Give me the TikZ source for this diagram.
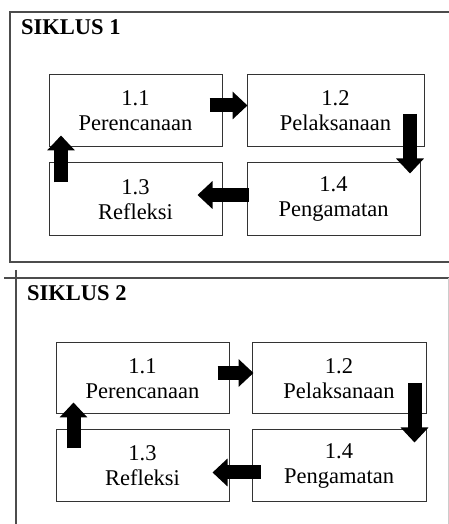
\documentclass[tikz,border=0pt]{standalone}
\usepackage{fontspec}
\setmainfont{Liberation Serif}
\usetikzlibrary{arrows.meta,positioning}

\begin{document}
\begin{tikzpicture}[x=1pt,y=1pt,
  every node/.style={font=\fontsize{22.5}{25}\selectfont},
  frame/.style={draw=black!70,line width=1.5pt},
  box/.style={draw=black!80,line width=1pt,align=center,inner sep=0pt,
    minimum width=173pt,minimum height=72pt},
  title/.style={anchor=west,inner sep=0pt,font=\fontsize{22.5}{25}\selectfont\bfseries},
  blockarrow/.style={line width=14pt,-{Triangle[width=27pt,length=15pt]}}]
\useasboundingbox (0,0) rectangle (449,524);
% siklus 1
\draw[frame] (449,512) -| (10,262) -- (449,262);
\node[title] (t1) at (21,497) {SIKLUS 1};
\node[box] (a1) at (135.5,413) {1.1\\Perencanaan};
\node[box, minimum width=177pt, right=24pt of a1] (a2) {1.2\\Pelaksanaan};
\node[box, minimum height=73pt, below=15pt of a1] (a3) {1.3\\Refleksi};
\node[box, minimum height=73pt, right=24pt of a3] (a4) {1.4\\Pengamatan};
\draw[blockarrow] ([xshift=-13pt,yshift=5.5pt]a1.east) -- ([xshift=1pt,yshift=5.5pt]a2.west);
\draw[blockarrow] ([xshift=-14.5pt,yshift=-3pt]a2.east) -- ([xshift=-10.5pt,yshift=-11pt]a4.north east);
\draw[blockarrow] ([xshift=2pt,yshift=4.5pt]a4.west) -- ([xshift=-25pt,yshift=4.5pt]a3.east);
\draw[blockarrow] ([xshift=12.5pt,yshift=-20pt]a3.north west) -- ([xshift=12.5pt,yshift=12pt]a1.south west);
% siklus 2
\draw[frame] (4,246) -- (449,246);
\draw[frame] (16,254) -- (16,0);
\draw[black!20,line width=1pt] (448,246) -- (448,0);
\node[title] (t2) at (27,231) {SIKLUS 2};
\node[box, minimum height=71pt] (b1) at (142.5,145.5) {1.1\\Perencanaan};
\node[box, minimum width=174pt, minimum height=71pt, right=22pt of b1] (b2) {1.2\\Pelaksanaan};
\node[box, below=15pt of b1] (b3) {1.3\\Refleksi};
\node[box, minimum width=174pt, right=22pt of b3] (b4) {1.4\\Pengamatan};
\draw[blockarrow] ([xshift=-12pt,yshift=5.5pt]b1.east) -- ([xshift=2pt,yshift=5.5pt]b2.west);
\draw[blockarrow] ([xshift=-12pt,yshift=-4.5pt]b2.east) -- ([xshift=-12pt,yshift=-13pt]b4.north east);
\draw[blockarrow] ([xshift=9pt,yshift=-6.5pt]b4.west) -- ([xshift=-17pt,yshift=-6.5pt]b3.east);
\draw[blockarrow] ([xshift=18pt,yshift=-19pt]b3.north west) -- ([xshift=18pt,yshift=12pt]b1.south west);
\end{tikzpicture}
\end{document}
